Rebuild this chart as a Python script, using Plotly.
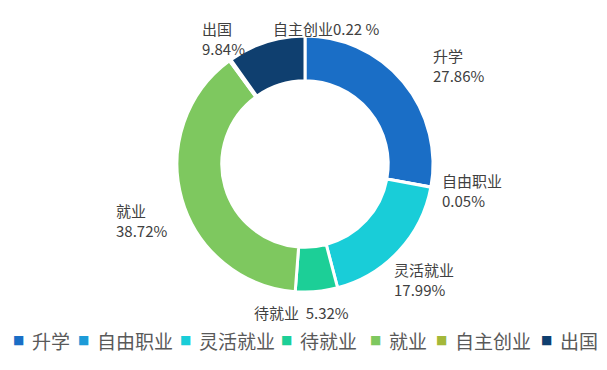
import plotly.graph_objects as go

categories = ["升学", "自由职业", "灵活就业", "待就业", "就业", "自主创业", "出国"]
values = [27.86, 0.05, 17.99, 5.32, 38.72, 0.22, 9.84]
label_texts = ["升学<br>27.86%", "自由职业<br>0.05%", "灵活就业<br>17.99%", "待就业  5.32%",
               "就业<br>38.72%", "自主创业0.22 %", "出国<br>9.84%"]
colors = ["#1a6ec6", "#1d9bd8", "#19cdd8", "#1ccf97", "#7ec85f", "#a4b83a", "#0f3f6f"]

# the page body has an 8px margin, so the figure is drawn from (8, 8) in the window
OFF = 8
W, H = 591, 354


def fx(px):
    return (px - OFF) / W


def fy(py):
    return 1 - (py - OFF) / H


CX, CY, R = 305, 164, 128
# label block anchor positions in window pixels (left, vertical centre)
label_pos = [(431, 66), (440, 190), (392, 279), (252, 312), (114, 220), (271, 28), (200, 38)]
# legend item marker centres (window pixels)
legend_x = [18, 83, 185, 286, 375, 441, 546]
legend_y = 340

fig = go.Figure(go.Pie(
    labels=categories, values=values, sort=False, direction="clockwise", rotation=0,
    hole=0.65, textinfo="none", hoverinfo="label+percent", showlegend=False,
    marker=dict(colors=colors, line=dict(color="white", width=3)),
    domain=dict(x=[fx(CX - R), fx(CX + R)], y=[fy(CY + R), fy(CY - R)]),
))

annotations = []
for txt, (px, py) in zip(label_texts, label_pos):
    annotations.append(dict(
        x=fx(px), y=fy(py), xref="paper", yref="paper", xanchor="left", yanchor="middle",
        text=txt, showarrow=False, align="left",
        font=dict(family="Noto Sans CJK SC", size=15, color="#404040"),
    ))

# legend row (square swatch + name)
for name, col, lx in zip(categories, colors, legend_x):
    annotations.append(dict(
        x=fx(lx), y=fy(legend_y), xref="paper", yref="paper", xanchor="center", yanchor="middle",
        text="■", showarrow=False,
        font=dict(family="DejaVu Sans", size=12, color=col),
    ))
    annotations.append(dict(
        x=fx(lx + 12), y=fy(legend_y), xref="paper", yref="paper", xanchor="left", yanchor="middle",
        text=name, showarrow=False,
        font=dict(family="Noto Sans CJK SC", size=19, color="#595959"),
    ))

fig.update_layout(
    width=W, height=H, margin=dict(l=0, r=0, t=0, b=0),
    paper_bgcolor="white", plot_bgcolor="white",
    annotations=annotations,
    showlegend=False,
    font=dict(family="Noto Sans CJK SC"),
)

fig.write_html("out.html")
